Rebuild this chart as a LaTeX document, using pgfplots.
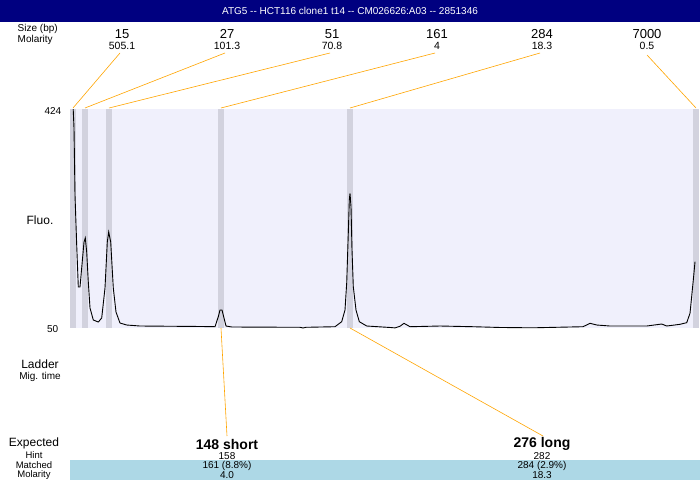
\documentclass[border=0pt]{standalone}
\usepackage{pgfplots}
\pgfplotsset{compat=1.18}
\usepackage{fontspec}
\setmainfont{Liberation Sans}
\definecolor{navyb}{HTML}{000080}
\definecolor{bgc}{HTML}{F0F0FC}
\definecolor{bandc}{HTML}{D2D2DE}
\definecolor{orl}{HTML}{FFA500}
\definecolor{lblue}{HTML}{ADD8E6}
\newcommand{\fs}[1]{\fontsize{#1}{#1}\selectfont}
\begin{document}
\begin{tikzpicture}[x=1pt,y=1pt,every node/.style={inner sep=0.5pt}]
\path[use as bounding box,fill=white] (0,0) rectangle (700,480);
% title bar
\fill[navyb] (0,458) rectangle (700,480);
\node[text=white,font=\fs{10}] at (350,469) {ATG5 -{}- HCT116 clone1 t14 -{}- CM026626:A03 -{}- 2851346};
% top-left labels
\node[anchor=west,font=\fs{10}] at (17,451) {Size (bp)};
\node[anchor=west,font=\fs{10}] at (17,440) {Molarity};
% ladder sizes
\foreach \xx/\s/\m in {122/15/505.1,227/27/101.3,332/51/70.8,437/161/4,542/284/18.3,647/7000/0.5}{
  \node[font=\fs{13}] at (\xx,446) {\s};
  \node[font=\fs{10.5}] at (\xx,434) {\m};
}
% left labels
\node[anchor=east,font=\fs{10}] at (62,369) {424};
\node[anchor=east,font=\fs{10}] at (59,151) {50};
\node[font=\fs{12}] at (40,260) {Fluo.};
\node[font=\fs{12}] at (40,116) {Ladder};
\node[font=\fs{10}] at (40,103) {Mig. time};
% bottom table
\fill[lblue] (70,0) rectangle (700,20);
\node[font=\fs{12}] at (34,37) {Expected};
\node[font=\fs{9.5}] at (34,24.5) {Hint};
\node[font=\fs{9.5}] at (34,14.5) {Matched};
\node[font=\fs{9.5}] at (34,4.5) {Molarity};
\foreach \xx/\e/\h/\mm/\mo in {227/148 short/158/161 (8.8\%)/4.0,542/276 long/282/284 (2.9\%)/18.3}{
  \node[font=\fs{14}\bfseries] at (\xx,36) {\e};
  \node[font=\fs{10}] at (\xx,23.5) {\h};
  \node[font=\fs{10}] at (\xx,14) {\mm};
  \node[font=\fs{10}] at (\xx,5) {\mo};
}
\begin{axis}[at={(70pt,152pt)},anchor=south west,scale only axis,
  width=629pt,height=219pt,xmin=70,xmax=699,ymin=50,ymax=424,
  axis lines=none,ticks=none,clip=true,
  axis background/.style={fill=bgc}]
\foreach \a/\b in {70/76,82/88,106/112,218/224,347/353,693/699}{
  \edef\tmp{\noexpand\fill[bandc] (axis cs:\a,50) rectangle (axis cs:\b,424);}\tmp
}
\addplot[black,line width=0.9pt,mark=none] coordinates {
(72.8,440)(74,391.6)(75,277.1)(76.7,191.7)(78.3,120.0)(80,120.0)(81.7,152.5)(84,196.9)(85.3,203.7)(86.7,179.8)(88.3,128.6)(90,84.2)(93.3,63.7)(98.3,60.2)(101.7,67.1)(105,118.3)(107.3,196.9)(108.7,214)(110.7,196.9)(113.3,118.3)(116,77.3)(120,58.5)(126.7,55.1)(140,53.4)(200,52.6)(215,52.2)(218.3,69.3)(220,80.7)(222,80.7)(224,67.1)(226,53.4)(232,51.7)(300,51.2)(303,50.0)(306,51.2)(335,52.2)(341.7,60.8)(345,80.7)(346.7,126.9)(348.3,212.2)(349.3,268.6)(350,280)(351,257.2)(352,183.2)(353.3,120.5)(356,80.7)(359.3,60.8)(366.7,53.4)(390,50.9)(395,50.2)(400,53)(404,58)(410,52.2)(440,53.4)(473,52.2)(500,50.9)(523,50.5)(537,50.5)(583,52.2)(590,58)(596.7,55.1)(610,53.4)(646.7,53.4)(661.7,56.8)(666.7,53.4)(680,56.3)(686.7,59.1)(690,75.1)(693.3,132)(695,163.2)
};
\end{axis}
% connectors
\draw[orl,line width=0.6pt] (120,427) -- (73,372);
\draw[orl,line width=0.6pt] (225,427) -- (85,372);
\draw[orl,line width=0.6pt] (330,427) -- (109,372);
\draw[orl,line width=0.6pt] (435,427) -- (221,372);
\draw[orl,line width=0.6pt] (540,427) -- (350,372);
\draw[orl,line width=0.6pt] (647,425) -- (696,372);
\draw[orl,line width=0.6pt] (221,152) -- (227,44);
\draw[orl,line width=0.6pt] (350,152) -- (543,44);
\end{tikzpicture}
\end{document}
